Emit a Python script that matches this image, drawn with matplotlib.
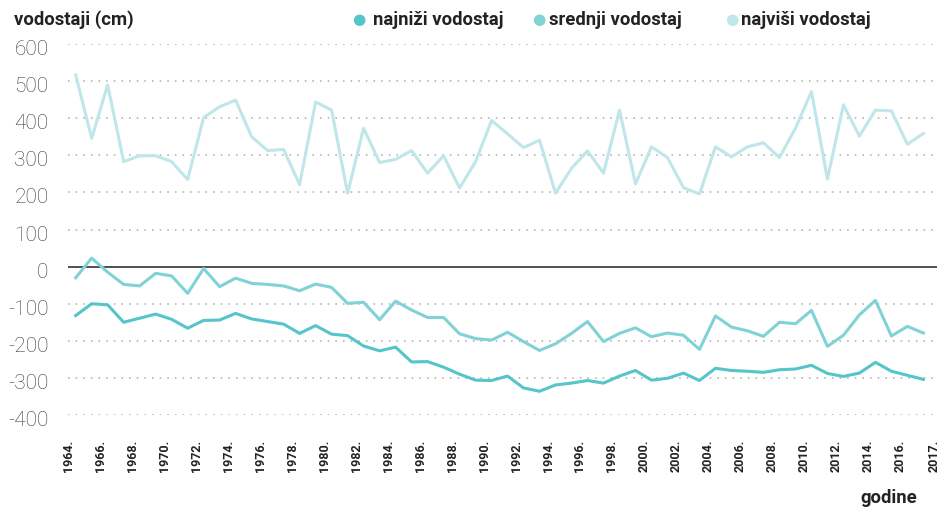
import matplotlib
matplotlib.use("Agg")
import matplotlib.pyplot as plt
import matplotlib.transforms as mtransforms

plt.rcParams['font.family'] = ['Roboto', 'DejaVu Sans']

# podaci (cm)
godine = list(range(1964, 2018))

najnizi = [-132, -100, -103, -150, -139, -128, -142, -166, -145, -144,
           -126, -141, -148, -155, -180, -159, -182, -186, -214, -227,
           -217, -257, -256, -271, -290, -306, -307, -295, -327, -336,
           -319, -314, -307, -314, -295, -280, -306, -301, -287, -307,
           -274, -280, -282, -285, -278, -276, -266, -288, -296, -287,
           -258, -282, -293, -304]

srednji = [-30, 23, -15, -48, -52, -18, -25, -72, -5, -54,
           -31, -45, -48, -52, -65, -47, -56, -99, -96, -143,
           -93, -117, -137, -137, -181, -194, -198, -177, -202, -226,
           -208, -180, -148, -202, -180, -165, -189, -179, -185, -223,
           -133, -163, -173, -188, -150, -154, -118, -215, -185, -130,
           -91, -187, -161, -179]

najvisi = [517, 346, 490, 283, 299, 299, 283, 235, 402, 431,
           449, 350, 313, 316, 221, 444, 422, 198, 373, 281,
           289, 313, 252, 299, 212, 283, 394, 358, 321, 341,
           198, 265, 312, 252, 422, 223, 323, 294, 213, 196,
           323, 296, 323, 334, 294, 373, 472, 236, 436, 352,
           422, 420, 330, 359]

oznake_x = list(range(1964, 2017, 2)) + [2017]
oznake_y = [600, 500, 400, 300, 200, 100, 0, -100, -200, -300, -400]

boje = ['#55c5c9', '#80d2d6', '#bfe6e9']
nazivi = ['najniži vodostaj', 'srednji vodostaj', 'najviši vodostaj']

W, H = 942, 508
fig = plt.figure(figsize=(W / 100, H / 100), dpi=100)
ax = fig.add_axes([68 / W, (H - 415) / H, (937 - 68) / W, (415 - 44.1) / H])

# mreža
for v in oznake_y:
    if v == 0:
        ax.axhline(0, color='#222222', lw=1.1, zorder=2)
    else:
        ax.axhline(v, color='#aaaaaa', lw=1.1, ls=(0, (1, 4)), zorder=1)

ax.plot(godine, najvisi, color=boje[2], lw=2.2, zorder=3)
ax.plot(godine, srednji, color=boje[1], lw=2.2, zorder=3)
ax.plot(godine, najnizi, color=boje[0], lw=2.2, zorder=4)

ax.set_xlim(1963.52, 2017.85)
ax.set_ylim(-400, 600)

for s in ax.spines.values():
    s.set_visible(False)

ax.set_yticks(oznake_y)
ax.set_yticklabels([str(v) for v in oznake_y], fontsize=15, fontweight='light', color='#3a3a3a')
ax.tick_params(axis='y', length=0, pad=14)
pomak = mtransforms.ScaledTranslation(0, -3.5 / 100, fig.dpi_scale_trans)
for lbl in ax.get_yticklabels():
    lbl.set_transform(lbl.get_transform() + pomak)

# oznake godina su u izvorniku malo lijevo od točaka, a 2017. je na rubu
pozicije_x = [g - 0.47 for g in oznake_x[:-1]] + [2017.68]
ax.set_xticks(pozicije_x)
ax.set_xticklabels([f"{g}." for g in oznake_x], rotation=90, fontsize=9,
                   fontweight='bold', color='#222222', va='top')
ax.tick_params(axis='x', length=0, pad=18)

# naslov osi i legenda
y_leg = 1 - 20 / H
fig.text(14 / W, y_leg, 'vodostaji (cm)', fontsize=13.3, fontweight='bold',
         color='#222222', va='center', ha='left')
krug_x = [359, 539, 732]
tekst_x = [373, 549, 741]
for xk, xt, b, n in zip(krug_x, tekst_x, boje, nazivi):
    fig.text(xk / W, y_leg, '●', fontsize=11, color=b, va='center', ha='center')
    fig.text(xt / W, y_leg, n, fontsize=13.3, fontweight='bold',
             color='#222222', va='center', ha='left')

fig.text(917 / W, 1 - 498 / H, 'godine', fontsize=13.3, fontweight='bold',
         color='#222222', va='center', ha='right')

fig.savefig('out.png', dpi=100)
